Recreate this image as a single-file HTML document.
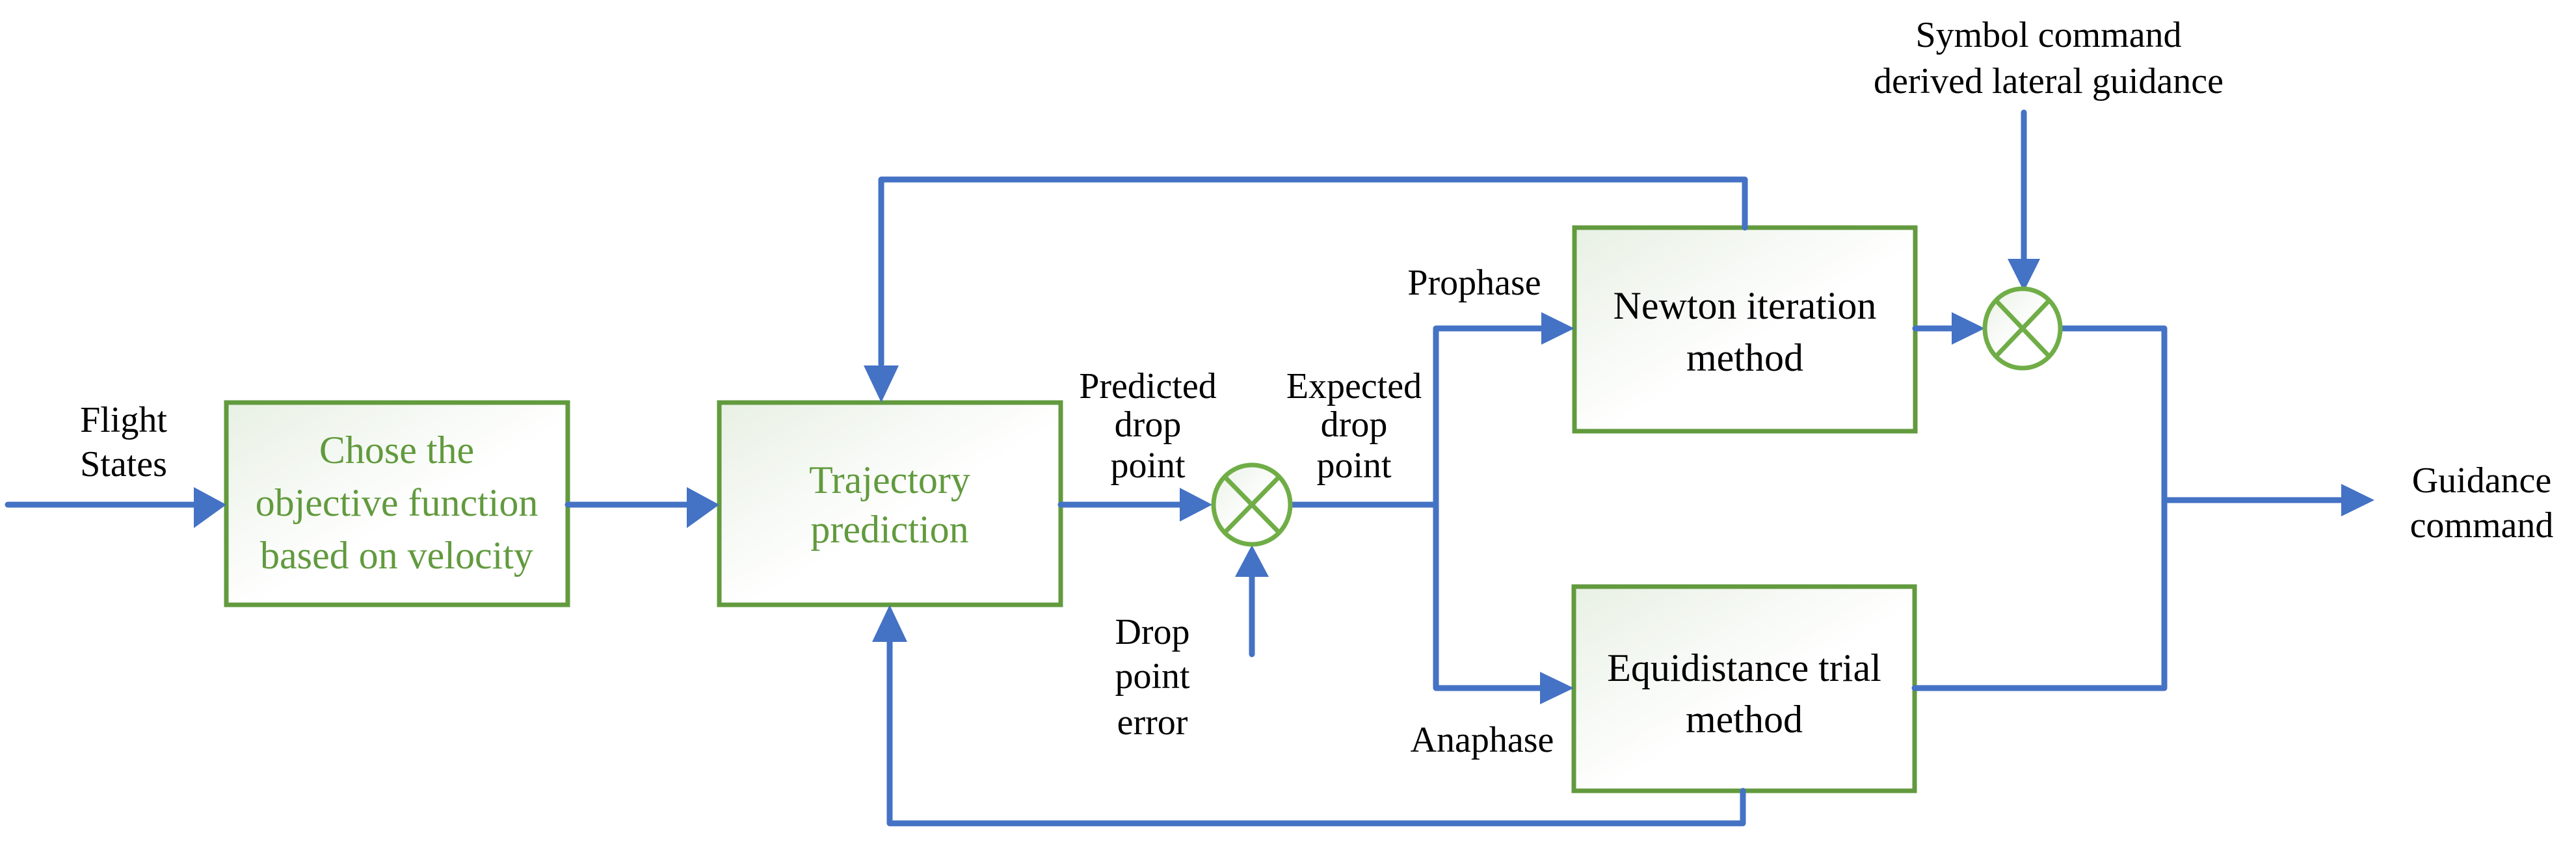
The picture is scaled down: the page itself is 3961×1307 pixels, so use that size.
<!DOCTYPE html>
<html><head><meta charset="utf-8"><style>html,body{margin:0;padding:0;background:#fff}svg{display:block}svg text{font-family:"Liberation Serif","DejaVu Serif","Times New Roman",serif !important}</style></head>
<body>
<svg width="3961" height="1307" viewBox="0 0 3961 1307" xmlns="http://www.w3.org/2000/svg">
<defs>
<linearGradient id="g" x1="0" y1="0" x2="1" y2="1"><stop offset="0" stop-color="#e8f0e4"/><stop offset="0.55" stop-color="#ffffff"/></linearGradient>
</defs>
<g font-family="Liberation Serif, DejaVu Serif, serif" font-size="56" text-anchor="middle">
<g fill="url(#g)" stroke="#629a3e" stroke-width="7">
<rect x="348" y="619" width="525" height="311"/>
<rect x="1106" y="619" width="525" height="311"/>
<rect x="2421" y="350" width="524" height="313"/>
<rect x="2420" y="902" width="524" height="314"/>
</g>
<g stroke="#4472c4" stroke-width="9" fill="none" stroke-linecap="round" stroke-linejoin="round">
<line x1="12" y1="776" x2="300" y2="776"/>
<line x1="873" y1="776" x2="1060" y2="776"/>
<line x1="1631" y1="776" x2="1820" y2="776"/>
<line x1="1925" y1="1006" x2="1925" y2="880"/>
<line x1="1985" y1="776" x2="2208" y2="776"/>
<polyline points="2380,505 2208,505 2208,1058 2375,1058"/>
<polyline points="2683,350 2683,276 1355,276 1355,560"/>
<polyline points="2680,1216 2680,1266 1368,1266 1368,985"/>
<line x1="2945" y1="505" x2="3005" y2="505"/>
<line x1="3112" y1="173" x2="3112" y2="400"/>
<polyline points="3171,505 3328,505 3328,1058 2944,1058"/>
<line x1="3328" y1="769" x2="3610" y2="769"/>
</g>
<g fill="#4472c4">
<polygon points="298,749 348,776 298,812"/>
<polygon points="1056,749 1106,776 1056,812"/>
<polygon points="1814,750 1864,776 1814,802"/>
<polygon points="1899,887 1925,838 1951,887"/>
<polygon points="2370,480 2421,505 2370,530"/>
<polygon points="2368,1033 2420,1058 2368,1083"/>
<polygon points="1328,562 1355,619 1382,562"/>
<polygon points="1341,987 1368,930 1395,987"/>
<polygon points="3001,480 3052,505 3001,530"/>
<polygon points="3087,398 3112,448 3137,398"/>
<polygon points="3600,744 3651,769 3600,794"/>
</g>
<g stroke="#70ad47" stroke-width="7" fill="url(#g)">
<ellipse cx="1925" cy="776" rx="59" ry="61"/>
<ellipse cx="3110" cy="505" rx="58" ry="61"/>
</g>
<g stroke="#70ad47" stroke-width="7">
<line x1="1883" y1="733" x2="1967" y2="819"/><line x1="1967" y1="733" x2="1883" y2="819"/>
<line x1="3069" y1="462" x2="3151" y2="548"/><line x1="3151" y1="462" x2="3069" y2="548"/>
</g>
<g fill="#629a3e" font-size="60">
<text x="610" y="712">Chose the</text>
<text x="610" y="793">objective function</text>
<text x="610" y="874">based on velocity</text>
<text x="1368" y="758">Trajectory</text>
<text x="1368" y="834">prediction</text>
</g>
<g fill="#000" font-size="60">
<text x="2683" y="490">Newton iteration</text>
<text x="2683" y="570">method</text>
<text x="2682" y="1047">Equidistance trial</text>
<text x="2682" y="1126">method</text>
</g>
<g fill="#000" font-size="56">
<text x="190" y="664">Flight</text>
<text x="190" y="732">States</text>
<text x="1765" y="612">Predicted</text>
<text x="1765" y="671">drop</text>
<text x="1765" y="734">point</text>
<text x="2082" y="612">Expected</text>
<text x="2082" y="671">drop</text>
<text x="2082" y="734">point</text>
<text x="1772" y="990">Drop</text>
<text x="1772" y="1058">point</text>
<text x="1772" y="1129">error</text>
<text x="2267" y="453">Prophase</text>
<text x="2279" y="1156">Anaphase</text>
<text x="3150" y="72">Symbol command</text>
<text x="3150" y="143">derived lateral guidance</text>
<text x="3816" y="757">Guidance</text>
<text x="3816" y="826">command</text>
</g>
</g>
</svg>
</body></html>
